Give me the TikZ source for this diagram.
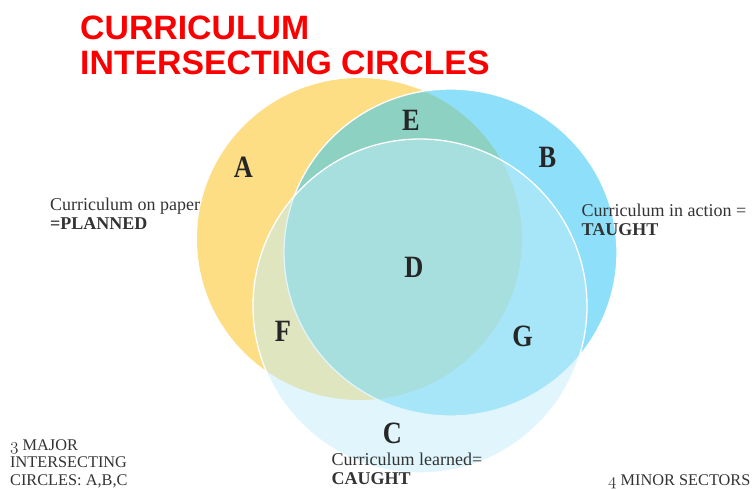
\documentclass[tikz,border=0pt]{standalone}
\usepackage{fontspec}
\setmainfont{Liberation Serif}
\newfontfamily\titlefont{Liberation Sans}
\newfontfamily\lblfont{Liberation Serif}[FakeStretch=0.85]
\usepackage{tikz}

\definecolor{planned}{RGB}{253,222,133}
\definecolor{taught}{RGB}{50,199,246}
\definecolor{caught}{RGB}{193,236,249}
\definecolor{titlered}{RGB}{250,0,0}

\begin{document}
\begin{tikzpicture}[x=1pt,y=-1pt,
    lbl/.style={font=\lblfont\bfseries\fontsize{31}{31}\selectfont,text=black!85,inner sep=0pt},
    txt/.style={font=\fontsize{18}{18.3}\selectfont,text=black!80,align=left,inner sep=0pt,anchor=base west},
    caps/.style={txt,font=\fontsize{16.3}{17.5}\selectfont}]
  % Parameters
  \def\rPlan{162}     % yellow circle (planned)
  \def\rTaught{165}   % blue circle (taught)
  \def\rCaught{167}   % light blue circle (caught)
  \useasboundingbox (0,0) rectangle (753,488);
  % Title (base = last line)
  \node[font=\titlefont\bfseries\fontsize{33.8}{35}\selectfont,text=titlered,align=left,inner sep=0pt,anchor=base west]
    (title) at (80,74) {CURRICULUM\\INTERSECTING CIRCLES};
  % Circles
  \fill[planned] (359.5,239) ellipse [x radius=\rPlan+0.5, y radius=\rPlan-1];
  \draw[white,line width=1.3pt,fill=taught,fill opacity=0.55] (450.5,252.5) ellipse [x radius=\rTaught+1.5, y radius=\rTaught-1.5];
  \draw[white,line width=1.3pt,fill=caught,fill opacity=0.5] (420,306) circle [radius=\rCaught];
  % Sector letters
  \foreach \x/\y/\l in {243.5/167.5/A, 411/120/E, 547.5/157/B, 414/267.5/D, 283/331/F, 522.5/336/G, 392.5/433.5/C}
    {\node[lbl] (\l) at (\x,\y) {\l};}
  % Captions (anchored on the baseline of their last line)
  \node[txt] (paper) at (50,229) {Curriculum on paper\\\textbf{=PLANNED}};
  \node[txt] (action) at (581.5,235) {Curriculum in action =\\\textbf{TAUGHT}};
  \node[txt] (learned) at (331.5,484) {Curriculum learned=\\\textbf{CAUGHT}};
  \node[caps] (major) at (10,485) {$\mathnormal{3}$ MAJOR\\INTERSECTING\\CIRCLES: A,B,C};
  \node[caps] (minor) at (608,485) {$\mathnormal{4}$ MINOR SECTORS};
\end{tikzpicture}
\end{document}
